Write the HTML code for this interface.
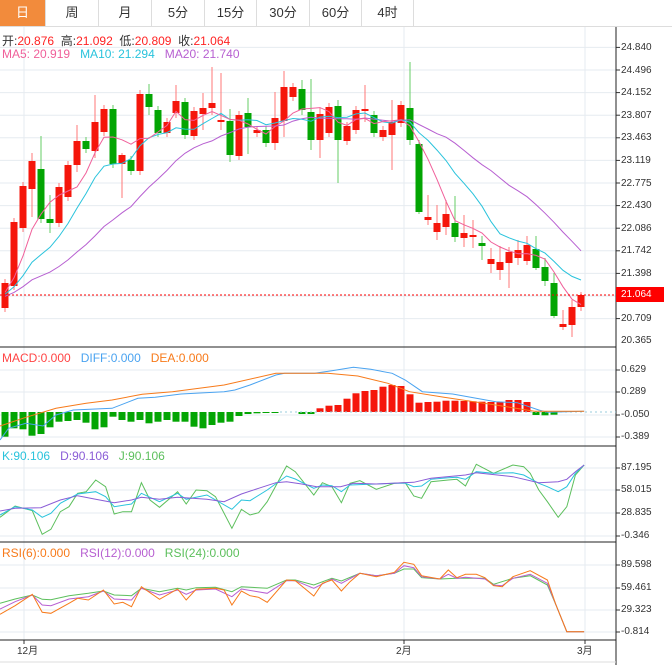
<!DOCTYPE html>
<html><head><meta charset="utf-8"><style>
body{margin:0;width:672px;height:665px;background:#fff;font-family:"Liberation Sans","Noto Sans CJK SC",sans-serif;overflow:hidden;position:relative}
.tabs{position:absolute;left:0;top:0;width:672px;height:26px;border-bottom:1px solid #ddd;display:flex}
.tabs div{height:26px;line-height:26px;text-align:center;font-size:13px;color:#333;border-right:1px solid #ddd;box-sizing:border-box}
.t{position:absolute;font-size:12px;white-space:nowrap}
.ax{position:absolute;font-size:10px;color:#333;left:621px}
</style></head><body>
<div class="tabs">
<div style="width:46px;background:#f28b3c;color:#fff">日</div><div style="width:53px">周</div><div style="width:53px">月</div><div style="width:53px">5分</div><div style="width:52px">15分</div><div style="width:53px">30分</div><div style="width:52px">60分</div><div style="width:52px">4时</div>
</div>
<svg id="s" width="672" height="665" style="position:absolute;left:0;top:0"></svg>
<div class="t" style="left:2px;top:32px;color:#333">开:<span style="color:#f22">20.876</span>&nbsp; 高:<span style="color:#f22">21.092</span>&nbsp; 低:<span style="color:#f22">20.809</span>&nbsp; 收:<span style="color:#f22">21.064</span></div>
<div class="t" style="left:2px;top:47px"><span style="color:#f0609a">MA5: 20.919</span>&nbsp;&nbsp; <span style="color:#29c3dc">MA10: 21.294</span>&nbsp;&nbsp; <span style="color:#b75fd1">MA20: 21.740</span></div>
<div class="t" style="left:2px;top:351px"><span style="color:#f44">MACD:0.000</span>&nbsp;&nbsp; <span style="color:#4aa3f0">DIFF:0.000</span>&nbsp;&nbsp; <span style="color:#f77a1a">DEA:0.000</span></div>
<div class="t" style="left:2px;top:449px"><span style="color:#29c3dc">K:90.106</span>&nbsp;&nbsp; <span style="color:#8a5cd6">D:90.106</span>&nbsp;&nbsp; <span style="color:#5cbf5c">J:90.106</span></div>
<div class="t" style="left:2px;top:546px"><span style="color:#f77a1a">RSI(6):0.000</span>&nbsp;&nbsp; <span style="color:#b75fd1">RSI(12):0.000</span>&nbsp;&nbsp; <span style="color:#5cbf5c">RSI(24):0.000</span></div>
<div class="ax" style="top:42px">24.840</div><div class="ax" style="top:65px">24.496</div><div class="ax" style="top:87px">24.152</div><div class="ax" style="top:110px">23.807</div><div class="ax" style="top:132px">23.463</div><div class="ax" style="top:155px">23.119</div><div class="ax" style="top:178px">22.775</div><div class="ax" style="top:200px">22.430</div><div class="ax" style="top:223px">22.086</div><div class="ax" style="top:245px">21.742</div><div class="ax" style="top:268px">21.398</div><div class="ax" style="top:313px">20.709</div><div class="ax" style="top:335px">20.365</div>
<div style="position:absolute;left:616px;top:287px;width:48px;height:15px;background:#f00;color:#fff;font-size:10px;line-height:15px;padding-left:5px;box-sizing:border-box">21.064</div>
<div class="ax" style="top:364px">0.629</div><div class="ax" style="top:386px">0.289</div><div class="ax" style="top:409px">-0.050</div><div class="ax" style="top:431px">-0.389</div>
<div class="ax" style="top:462px">87.195</div><div class="ax" style="top:484px">58.015</div><div class="ax" style="top:507px">28.835</div><div class="ax" style="top:530px">-0.346</div>
<div class="ax" style="top:559px">89.598</div><div class="ax" style="top:582px">59.461</div><div class="ax" style="top:604px">29.323</div><div class="ax" style="top:626px">-0.814</div>
<div class="t" style="left:17px;top:642px;font-size:10px;color:#333">12月</div>
<div class="t" style="left:396px;top:642px;font-size:10px;color:#333">2月</div>
<div class="t" style="left:577px;top:642px;font-size:10px;color:#333">3月</div>
<script>
var s=document.getElementById('s'),h='';
function L(x1,y1,x2,y2,c,w,d){h+='<line x1="'+x1+'" y1="'+y1+'" x2="'+x2+'" y2="'+y2+'" stroke="'+c+'" stroke-width="'+(w||1)+'"'+(d?' stroke-dasharray="'+d+'"':'')+'/>';}
function P(pts,c,sx,sy,oy){var d=pts.map(function(p,i){return (i?'L':'M')+(p[0]/sx).toFixed(1)+','+(oy+p[1]/sy).toFixed(1)}).join('');h+='<path d="'+d+'" fill="none" stroke="'+c+'" stroke-width="1"/>';}
for(var k=0;k<13;k++){var y=47.4+k*22.6;L(0,y,616,y,'#e6ebf0');L(616,y,620,y,'#333');}
[370,392,415,437,468,490,513,536,565,588,610,632].forEach(function(y){L(0,y,616,y,'#e6ebf0');L(616,y,620,y,'#333');});
[24,404,585].forEach(function(x){L(x,27,x,640,'#e6ebf0');L(x,640,x,644,'#333');});
[347,446,542,640].forEach(function(y){L(0,y,616,y,'#222');});
L(616,27,616,665,'#222');L(0,662,616,662,'#ddd');
var C=[[283,308,1],[222,286,1],[186,228,1],[161,189,1],[169,219,0],[219,223,0],[187,223,1],[165,197,1],[141,165,1],[141,149,0],[122,151,1],[109,132,1],[109,164,0],[155,164,1],[160,171,0],[94,171,1],[94,107,0],[110,133,0],[122,133,1],[101,113,1],[102,135,0],[111,136,1],[108,114,1],[103,108,1],[120,121,1],[121,155,0],[115,156,1],[113,127,0],[130,133,1],[130,143,0],[118,143,1],[87,121,1],[87,97,1],[89,110,0],[112,140,0],[114,140,1],[107,133,1],[106,140,0],[126,141,1],[110,130,1],[109,111,1],[115,133,0],[130,137,1],[122,135,1],[105,123,1],[108,140,0],[144,212,0],[217,220,1],[223,232,1],[214,227,1],[223,237,0],[233,238,1],[235,237,1],[243,246,0],[259,264,1],[262,270,1],[252,263,1],[250,258,1],[245,261,1],[249,268,0],[267,281,0],[283,316,0],[324,327,1],[307,325,1],[295,307,1]];
var W={3:[153,217],4:[136,223],5:[195,233],8:[125,172],10:[95,158],13:[153,198],16:[84,115],19:[85,118],22:[93,130],23:[67,115],24:[73,130],25:[109,162],27:[98,154],30:[92,150],31:[71,137],33:[80,115],34:[79,150],35:[108,158],37:[100,183],40:[85,122],43:[100,170],45:[62,145],46:[140,214],47:[195,225],48:[205,240],49:[200,235],50:[196,242],51:[215,247],52:[220,248],53:[236,260],54:[248,273],55:[246,280],56:[247,288],57:[240,265],58:[236,265],59:[236,270],60:[258,286],61:[273,318],62:[310,330],63:[300,337],64:[292,311]};
var closes=[];
C.forEach(function(c,i){var x=5+9*i,top=Math.min(c[0],c[1]),bot=Math.max(c[0],c[1]);var col=c[2]?'#f5160b':'#03a503',wc=c[2]?'#f77':'#6c6';var w=W[i]||[top-4,bot+4];L(x,w[0],x,w[1],wc);h+='<rect x="'+(x-3.5)+'" y="'+top+'" width="7" height="'+Math.max(bot-top,2)+'" fill="'+col+'"/>';closes.push(c[2]?top:bot);});
var pre=[];for(var i=0;i<20;i++)pre.push(300-i*0.3);
var all=pre.concat(closes);
function ma(n,c){var d='';for(var i=0;i<closes.length;i++){var j=i+20,sm=0;for(var k=0;k<n;k++)sm+=all[j-k];d+=(i?'L':'M')+(5+9*i)+','+(sm/n).toFixed(1);}h+='<path d="'+d+'" fill="none" stroke="'+c+'" stroke-width="1"/>';}
ma(20,'#b75fd1');ma(10,'#29c3dc');ma(5,'#f0609a');
L(0,295,616,295,'#f00',1,'2,2');
var G=[290,265,268,287,282,262,245,243,240,248,268,262,230,240,245,240,250,245,240,245,245,260,265,255,248,245,228,222,220,219,219];
G.forEach(function(b,i){var x=5+9*i;h+='<rect x="'+(x-3.5)+'" y="412" width="7" height="'+((b-216)/3).toFixed(1)+'" fill="#03a503"/>';});
[[33,222],[34,222],[59,225],[60,226],[61,224]].forEach(function(p){h+='<rect x="'+(5+9*p[0]-3.5)+'" y="412" width="7" height="'+((p[1]-216)/3).toFixed(1)+'" fill="#03a503"/>';});
var R=[205,197,195,176,160,153,150,140,135,138,163,188,186,185,182,182,183,184,185,186,186,180,180,186];
R.forEach(function(t,i){var x=5+9*(i+35),hh=(216-t)/3;h+='<rect x="'+(x-3.5)+'" y="'+(412-hh).toFixed(1)+'" width="7" height="'+hh.toFixed(1)+'" fill="#f5160b"/>';});
L(280,412,616,412,'#9cd',1,'2,3');
P([[0,300],[20,265],[60,250],[100,258],[130,225],[170,210],[260,205],[320,175],[360,172],[420,162],[520,155],[545,150],[580,135],[640,105],[660,100],[730,100],[770,92],[820,82],[860,88],[910,100],[940,120],[980,155],[1050,162],[1150,185],[1200,188],[1250,210],[1270,217],[1355,214]],'#4aa3f0',2.32,3,340);
P([[0,258],[60,232],[130,205],[200,190],[260,180],[330,163],[400,155],[520,135],[640,100],[760,100],[830,108],[900,130],[950,155],[1030,172],[1150,195],[1240,214],[1355,214]],'#f77a1a',2.32,3,340);
P([[0,232],[35,198],[75,212],[98,283],[118,268],[140,215],[160,200],[180,160],[200,155],[222,120],[245,140],[265,222],[285,215],[305,215],[328,128],[348,180],[370,202],[412,155],[432,192],[455,150],[480,152],[500,170],[538,265],[560,208],[580,225],[600,218],[620,185],[665,78],[685,95],[728,165],[748,128],[770,140],[792,188],[812,130],[835,122],[873,148],[915,130],[940,128],[960,168],[978,175],[1000,125],[1040,120],[1060,118],[1080,138],[1105,73],[1145,100],[1190,75],[1215,80],[1230,100],[1250,150],[1270,185],[1295,232],[1315,200],[1335,105],[1355,75]],'#5cbf5c',2.32,3,440);
P([[0,225],[35,200],[75,210],[98,232],[118,220],[140,190],[180,162],[222,155],[245,170],[265,200],[305,192],[328,160],[370,185],[412,160],[432,178],[480,165],[538,208],[560,180],[580,182],[620,150],[665,108],[685,117],[728,145],[748,135],[770,137],[792,155],[812,135],[873,132],[915,130],[940,130],[960,140],[978,138],[1000,118],[1040,113],[1060,112],[1080,118],[1105,95],[1145,100],[1190,98],[1215,105],[1250,130],[1270,140],[1295,155],[1315,140],[1335,100],[1355,75]],'#29c3dc',2.32,3,440);
P([[0,213],[35,205],[95,203],[140,180],[180,167],[222,178],[265,188],[305,180],[328,172],[370,178],[412,172],[480,178],[520,185],[560,162],[600,145],[640,128],[665,125],[700,132],[735,140],[790,140],[820,130],[873,132],[960,127],[1000,115],[1080,105],[1105,98],[1190,110],[1250,128],[1295,125],[1315,118],[1335,95],[1355,75]],'#8a5cd6',2.32,3,440);
P([[0,205],[35,192],[75,180],[98,193],[118,194],[160,182],[205,175],[240,168],[265,180],[305,182],[328,160],[370,170],[412,160],[432,165],[455,158],[500,157],[538,170],[560,155],[620,160],[665,135],[685,135],[728,150],[770,130],[792,138],[835,115],[873,122],[915,115],[937,102],[960,102],[978,128],[1020,132],[1060,130],[1125,130],[1145,148],[1190,130],[1230,122],[1270,150],[1290,210],[1315,290],[1355,290]],'#5cbf5c',2.32,3,535);
P([[0,222],[35,200],[75,180],[98,210],[118,212],[160,192],[205,185],[240,168],[265,192],[305,195],[328,160],[370,180],[412,165],[432,178],[455,165],[500,162],[538,185],[560,162],[620,175],[665,137],[685,137],[728,160],[770,132],[792,145],[835,115],[873,122],[915,115],[937,92],[960,98],[978,125],[1020,132],[1040,118],[1060,130],[1080,127],[1125,132],[1145,150],[1165,152],[1190,130],[1230,118],[1270,145],[1290,210],[1315,290],[1355,290]],'#b75fd1',2.32,3,535);
P([[0,238],[35,212],[75,178],[98,232],[118,235],[160,205],[180,190],[205,195],[240,165],[265,207],[285,202],[305,215],[328,155],[370,193],[412,162],[432,195],[455,163],[500,160],[520,165],[538,210],[560,168],[580,182],[600,187],[620,202],[665,135],[685,137],[728,183],[748,145],[770,135],[792,168],[812,140],[835,115],[873,125],[915,112],[937,82],[960,88],[978,122],[1020,132],[1040,105],[1060,128],[1080,118],[1105,118],[1125,128],[1145,152],[1165,155],[1190,125],[1230,107],[1270,135],[1290,210],[1315,290],[1355,290]],'#f77a1a',2.32,3,535);
s.innerHTML=h;
</script>
</body></html>
